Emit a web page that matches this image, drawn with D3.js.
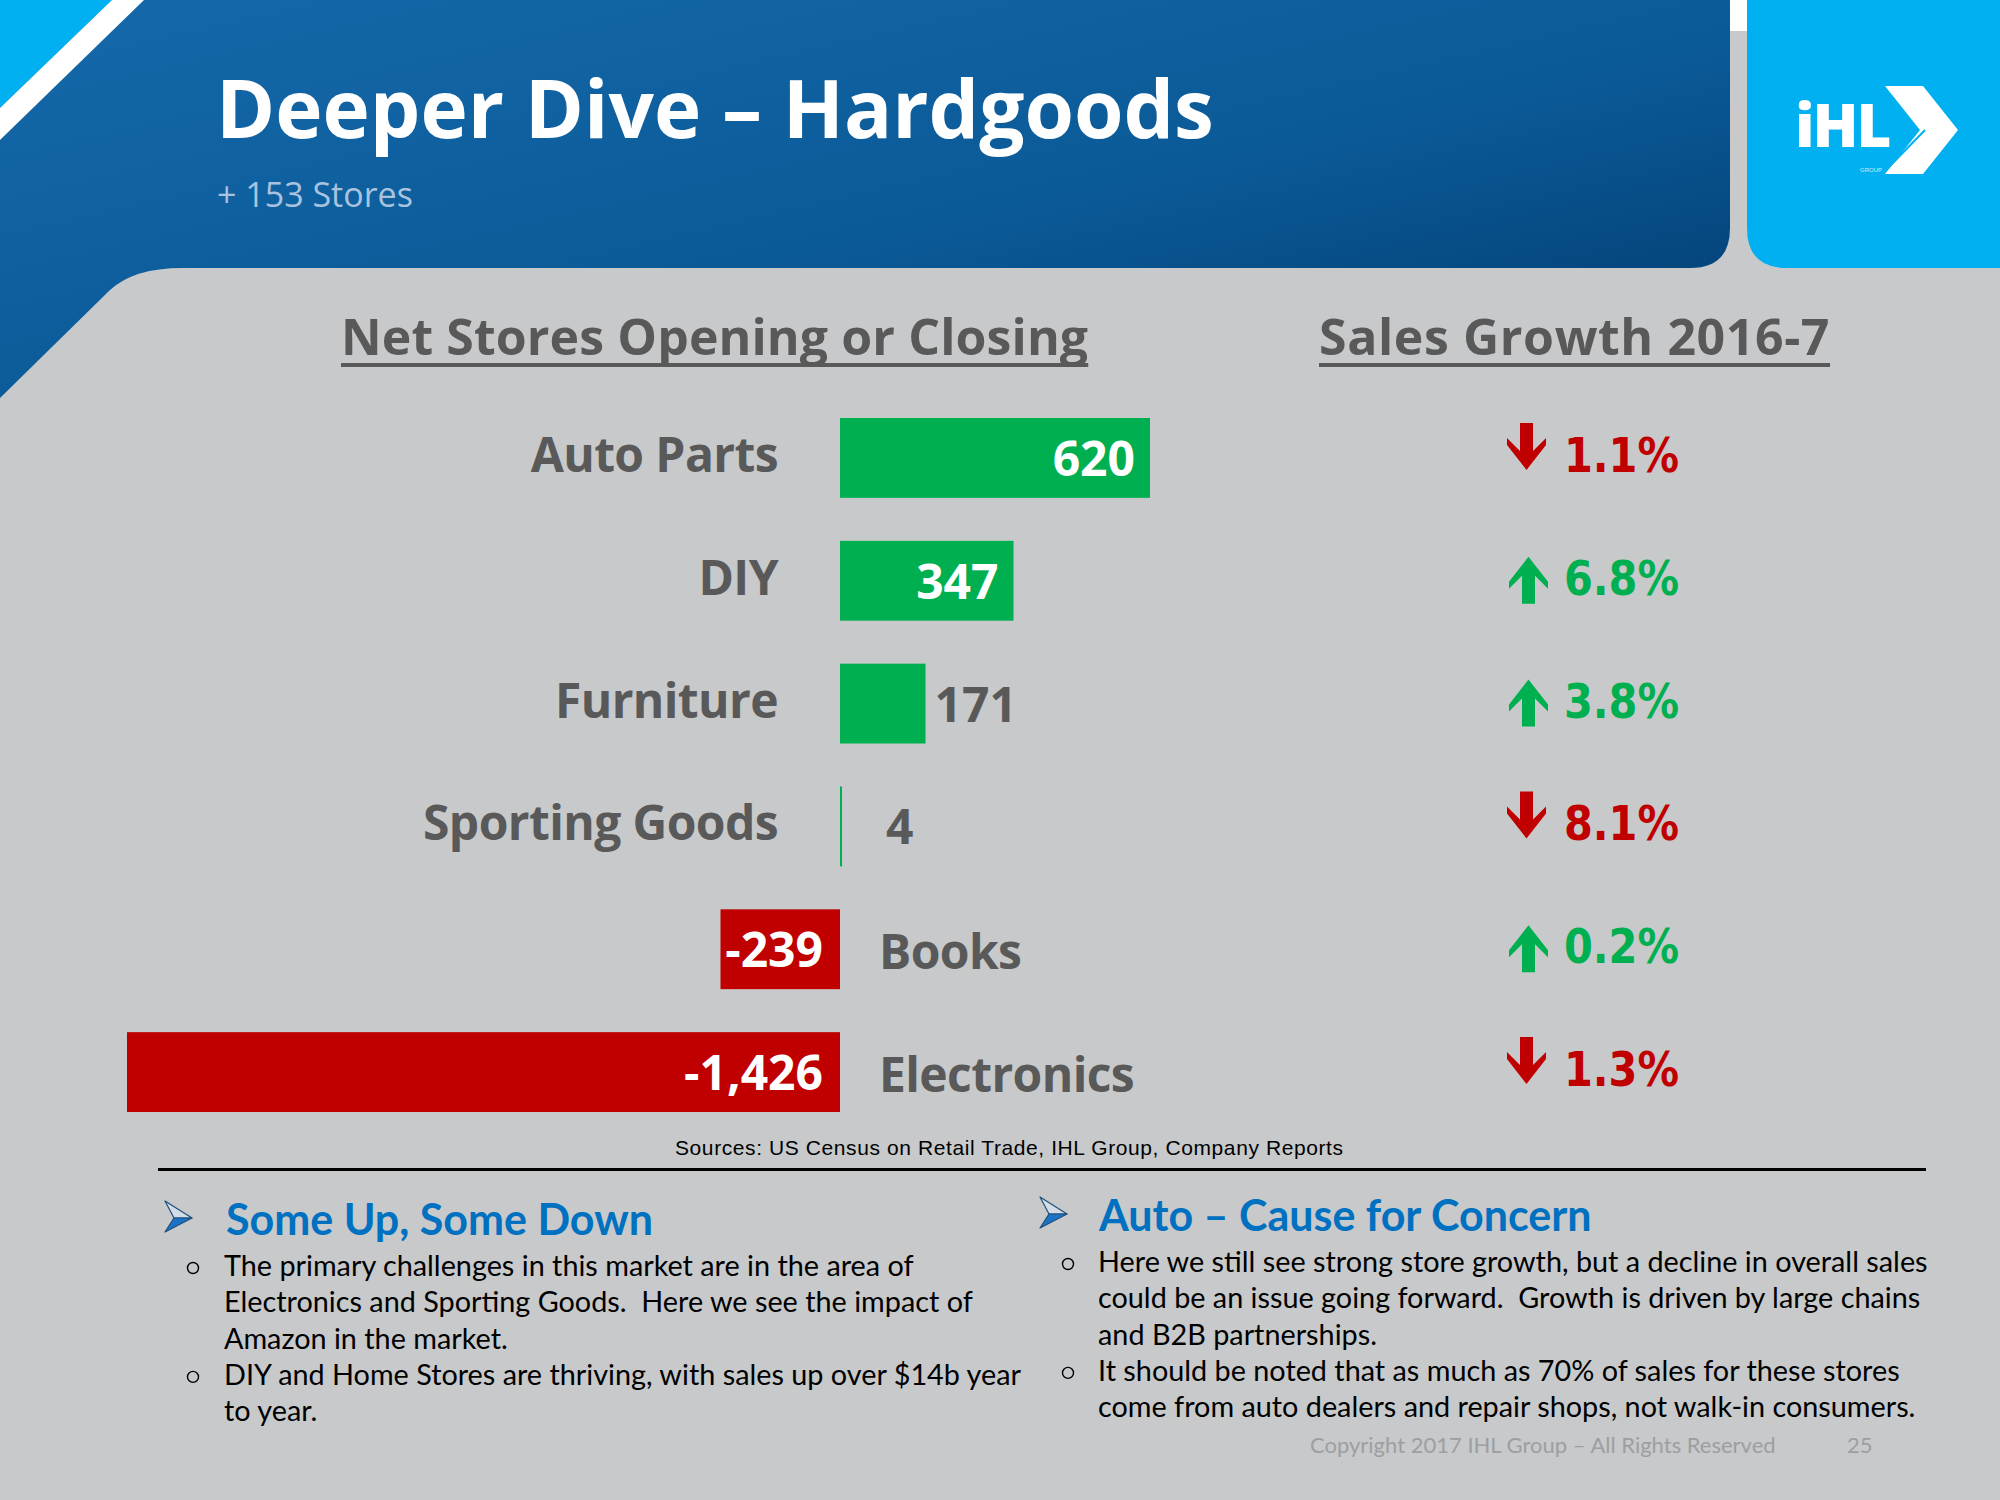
<!DOCTYPE html>
<html><head><meta charset="utf-8">
<script src="https://cdn.jsdelivr.net/npm/d3@7"></script>
<style>
body{margin:0;background:#c7c9ca;}
svg{display:block}
text{white-space:pre}
</style>
</head><body>
<svg id="chart" width="2000" height="1500"></svg>
<script>
// ---------- data ----------
const categories = ["Auto Parts", "DIY", "Furniture", "Sporting Goods", "Books", "Electronics"];
const netStores = [620, 347, 171, 4, -239, -1426];
const salesGrowth = [-1.1, 6.8, 3.8, -8.1, 0.2, -1.3];

const titleText = "Deeper Dive – Hardgoods";
const subtitleText = "+ 153 Stores";
const leftHeading = "Net Stores Opening or Closing";
const rightHeading = "Sales Growth 2016-7";
const sourceNote = "Sources: US Census on Retail Trade, IHL Group, Company Reports";
const noteHeads = ["Some Up, Some Down", "Auto – Cause for Concern"];
const leftBullets = [
  ["The primary challenges in this market are in the area of",
   "Electronics and Sporting Goods.  Here we see the impact of",
   "Amazon in the market."],
  ["DIY and Home Stores are thriving, with sales up over $14b year",
   "to year."]
];
const rightBullets = [
  ["Here we still see strong store growth, but a decline in overall sales",
   "could be an issue going forward.  Growth is driven by large chains",
   "and B2B partnerships."],
  ["It should be noted that as much as 70% of sales for these stores",
   "come from auto dealers and repair shops, not walk-in consumers."]
];
const copyrightText = "Copyright 2017 IHL Group – All Rights Reserved";
const pageNumber = "25";

// ---------- setup ----------
const svg = d3.select("#chart");
const GREEN = "#00b050", RED = "#c00000", GRAY = "#595959", BLUE = "#0070c0", CYAN = "#00b0f0";
const fmt = d3.formatLocale({decimal: ".", thousands: ",", grouping: [3], currency: ["$", ""], minus: "-"}).format(",");

const defs = svg.append("defs");
const hg = defs.append("linearGradient").attr("id", "hdr").attr("x1", "0").attr("y1", "0").attr("x2", "1").attr("y2", "1");
hg.append("stop").attr("offset", "0").attr("stop-color", "#1569aa");
hg.append("stop").attr("offset", "0.55").attr("stop-color", "#0b5a98");
hg.append("stop").attr("offset", "1").attr("stop-color", "#003a6c");

svg.append("rect").attr("width", 2000).attr("height", 1500).attr("fill", "#c7c9ca");

// header shapes
svg.append("path")
  .attr("d", "M0,0 H1730 V228 Q1730,268 1690,268 H182 Q134,268 110,290 L0,398 Z")
  .attr("fill", "url(#hdr)");
svg.append("path").attr("d", "M0,0 H112 L0,108 Z").attr("fill", CYAN);
svg.append("path").attr("d", "M112,0 H144 L0,140 V108 Z").attr("fill", "#ffffff");
svg.append("rect").attr("x", 1730).attr("y", 0).attr("width", 17).attr("height", 31).attr("fill", "#ffffff");
svg.append("path")
  .attr("d", "M1747,0 H2000 V268 H1787 Q1747,268 1747,228 Z")
  .attr("fill", CYAN);

// logo
const logo = svg.append("g");
logo.append("text").attr("x", 1795).attr("y", 147)
  .attr("font-family", "Open Sans, sans-serif").attr("font-weight", 800)
  .attr("font-size", 60).attr("fill", "#fff").attr("letter-spacing", -2).text("iHL");
logo.append("path")
  .attr("d", "M1885,86 H1923 L1958,130 L1923,174 H1885 L1920,130 Z")
  .attr("fill", "#fff");
logo.append("line").attr("x1", 1888).attr("y1", 168).attr("x2", 1925).attr("y2", 130)
  .attr("stroke", CYAN).attr("stroke-width", 2);
logo.append("text").attr("x", 1860).attr("y", 172)
  .attr("font-family", "Liberation Sans, sans-serif").attr("font-size", 6)
  .attr("fill", "#cfeefb").text("GROUP");

// title
svg.append("text").attr("x", 216).attr("y", 138)
  .attr("font-family", "Open Sans, sans-serif").attr("font-weight", 700)
  .attr("font-size", 80).attr("fill", "#fff").text(titleText);
svg.append("text").attr("x", 217).attr("y", 207)
  .attr("font-family", "Open Sans, sans-serif").attr("font-weight", 400)
  .attr("font-size", 34).attr("fill", "#a9c3df").text(subtitleText);

// headings with underline
function heading(txt, x, y, ls) {
  const t = svg.append("text").attr("x", x).attr("y", y)
    .attr("font-family", "Open Sans, sans-serif").attr("font-weight", 700)
    .attr("font-size", 50).attr("letter-spacing", ls).attr("fill", GRAY).text(txt);
  const w = t.node().getComputedTextLength();
  svg.append("rect").attr("x", x).attr("y", y + 8).attr("width", w).attr("height", 4).attr("fill", GRAY);
}
heading(leftHeading, 341, 355, 0.1);
heading(rightHeading, 1319, 355, 0.6);

// ---------- bar chart ----------
const data = categories.map((c, i) => ({cat: c, v: netStores[i], g: salesGrowth[i]}));
const x = d3.scaleLinear().domain([d3.min(netStores), d3.max(netStores)]).range([127, 1150]);
const y = d3.scaleBand().domain(categories).range([418, 1112]).paddingInner(0.35).paddingOuter(0);
const x0 = x(0);
const cy = d => y(d.cat) + y.bandwidth() / 2;

const rows = svg.append("g").selectAll("g").data(data).join("g");

rows.append("rect")
  .attr("x", d => Math.min(x(d.v), x0))
  .attr("y", d => y(d.cat))
  .attr("width", d => Math.max(1.5, Math.abs(x(d.v) - x0)))
  .attr("height", y.bandwidth())
  .attr("fill", d => d.v >= 0 ? GREEN : RED);

const boldFont = "Open Sans, sans-serif";

// category labels
rows.append("text")
  .attr("x", d => d.v >= 0 ? x0 - 62 : x0 + 39)
  .attr("y", d => cy(d) + (d.v >= 0 ? 14 : 20))
  .attr("text-anchor", d => d.v >= 0 ? "end" : "start")
  .attr("font-family", boldFont).attr("font-weight", 700).attr("font-size", 48)
  .attr("letter-spacing", -0.6)
  .attr("fill", GRAY)
  .text(d => d.cat);

// value labels
rows.append("text")
  .each(function(d) {
    const t = d3.select(this);
    const w = Math.abs(x(d.v) - x0);
    if (d.v < 0) {
      t.attr("x", x0 - 17).attr("text-anchor", "end").attr("fill", "#fff");
    } else if (w > 120) {
      t.attr("x", x(d.v) - 15).attr("text-anchor", "end").attr("fill", "#fff");
    } else {
      t.attr("x", Math.max(x(d.v) + 9, x0 + 46)).attr("text-anchor", "start").attr("fill", GRAY);
    }
  })
  .attr("y", d => cy(d) + 18)
  .attr("font-family", boldFont).attr("font-weight", 700).attr("font-size", 48)
  .text(d => fmt(d.v));

// ---------- sales growth column ----------
const arrowX = 1507;
// swept-back block arrow pointing down, 38 x 47
const arrowPath = "M13,0 H26 V28 L39,15 V22 L19.5,47 L0,22 V15 L13,28 Z";
rows.append("path")
  .attr("d", arrowPath)
  .attr("transform", d => {
    const base = cy(d) + 14;
    return d.g < 0
      ? `translate(${arrowX},${base - 49})`
      : `translate(${arrowX + 2},${base + 9}) scale(1,-1)`;
  })
  .attr("fill", d => d.g < 0 ? RED : GREEN);
rows.append("text")
  .attr("x", 1564)
  .attr("y", d => cy(d) + 14)
  .attr("font-family", "DejaVu Sans, sans-serif").attr("font-weight", 700).attr("font-size", 48)
  .attr("textLength", 115).attr("lengthAdjust", "spacingAndGlyphs")
  .attr("fill", d => d.g < 0 ? RED : GREEN)
  .text(d => d3.format(".1f")(Math.abs(d.g)) + "%");

// ---------- source & rule ----------
svg.append("text").attr("x", 675).attr("y", 1155)
  .attr("font-family", "Liberation Sans Narrow, Liberation Sans, sans-serif").attr("font-size", 21)
  .attr("textLength", 668).attr("lengthAdjust", "spacing")
  .attr("fill", "#000").text(sourceNote);
svg.append("rect").attr("x", 158).attr("y", 1168).attr("width", 1768).attr("height", 3).attr("fill", "#000");

// ---------- notes ----------
function bulletArrow(tipX, tipY) {
  const g = svg.append("g").attr("transform", `translate(${tipX},${tipY})`);
  g.append("path").attr("d", "M0,0 L-27,-17 L-18,0 Z")
    .attr("fill", "#d3dde8").attr("stroke", "#1f4e79").attr("stroke-width", 1.2).attr("stroke-linejoin", "round");
  g.append("path").attr("d", "M0,0 L-27,14 L-18,0 Z")
    .attr("fill", "#1a73c7").attr("stroke", "#1f4e79").attr("stroke-width", 1.2).attr("stroke-linejoin", "round");
}
function notes(headX, headY, tipX, bulletX, textX, firstBase, bullets, head) {
  bulletArrow(tipX, headY - 17);
  svg.append("text").attr("x", headX).attr("y", headY)
    .attr("font-family", "Lato, sans-serif").attr("font-weight", 700)
    .attr("font-size", 43).attr("fill", BLUE).text(head);
  let line = 0;
  const lh = 36.3;
  bullets.forEach(b => {
    svg.append("circle").attr("cx", bulletX).attr("cy", firstBase + line * lh - 8)
      .attr("r", 5.5).attr("fill", "none").attr("stroke", "#000").attr("stroke-width", 1.4);
    b.forEach(l => {
      svg.append("text").attr("x", textX).attr("y", firstBase + line * lh)
        .attr("font-family", "Lato, sans-serif").attr("font-size", 28.8)
        .attr("fill", "#000").text(l);
      line++;
    });
  });
}
notes(226, 1235, 192, 193, 224, 1276, leftBullets, noteHeads[0]);
notes(1099, 1231, 1067, 1068, 1098, 1272, rightBullets, noteHeads[1]);

// footer
svg.append("text").attr("x", 1310).attr("y", 1453)
  .attr("font-family", "Lato, sans-serif").attr("font-size", 22)
  .attr("fill", "#9c9fa2").text(copyrightText);
svg.append("text").attr("x", 1847).attr("y", 1453)
  .attr("font-family", "Lato, sans-serif").attr("font-size", 22)
  .attr("fill", "#9c9fa2").text(pageNumber);
</script>
</body></html>
